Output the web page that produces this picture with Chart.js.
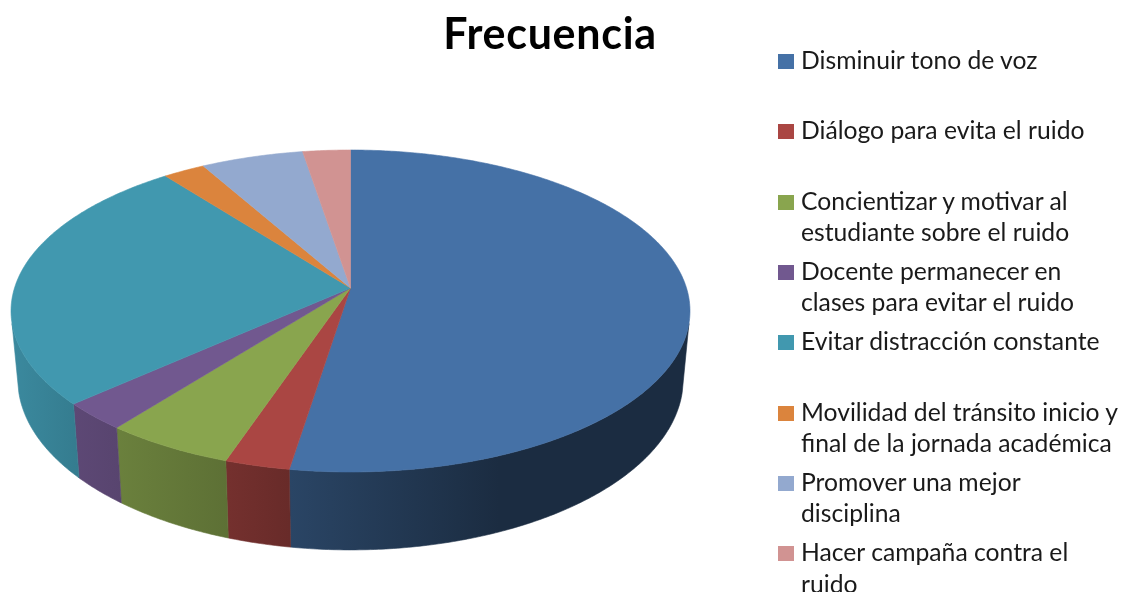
<!DOCTYPE html>
<html>
<head>
<meta charset="utf-8">
<script src="https://cdn.jsdelivr.net/npm/chart.js@4"></script>
<style>
    html, body { margin: 0; padding: 0; background: #fff; overflow: hidden; }
    #wrap { position: relative; width: 1124px; height: 592px; font-family: Lato, sans-serif; color: #1a1a1a; }
    #pie-chart { position: absolute; left: 0; top: 0; }
    #title { position: absolute; left: 350px; width: 400px; top: 9px; text-align: center; font-size: 43px; letter-spacing: 0.7px; line-height: 48px; font-weight: 700; color: #000; }
    .item { position: absolute; left: 801px; font-size: 24.7px; line-height: 31.5px; white-space: nowrap; }
    .swatch { position: absolute; left: 778px; width: 16px; height: 15px; }
</style>
</head>
<body>
<div id="wrap">
    <canvas id="pie-chart" width="1124" height="592"></canvas>
    <div id="title"></div>
    <div id="legend"></div>
</div>
<script>
const chartTitle = "Frecuencia";
const categories = [
    "Disminuir tono de voz",
    "Diálogo para evita el ruido",
    "Concientizar y motivar al\nestudiante sobre el ruido",
    "Docente permanecer en\nclases para evitar el ruido",
    "Evitar distracción constante",
    "Movilidad del tránsito inicio y\nfinal de la jornada académica",
    "Promover una mejor\ndisciplina",
    "Hacer campaña contra el\nruido"
];
// shares, in percent
const frecuencia = [52.5, 2.7, 5.4, 2.8, 26.1, 2.3, 5.6, 2.6];
const colors = ["#4571A6", "#AA4643", "#89A54E", "#71588F", "#4198AF", "#DB843D", "#93A9CF", "#D19392"];

// perspective of the tilted disc, relative to the arc radius Chart.js gives us
const tilt = 1 / 7;
const stretchX = 336 / 138;
const stretchY = 157.7 / 138;
const depth = 66.8;
const bottomShrink = 0.98;
const wallFromAngle = 0.22;  // radians, where the side wall comes into view

// darkening of the side wall from left to right
const wallShade = [[0, 0.9], [0.09, 0.82], [0.32, 0.68], [0.41, 0.61], [0.72, 0.39], [1, 0.39]];

function project(el, angle) {
    const u = Math.cos(angle), v = Math.sin(angle);
    const w = 1 - tilt * v;
    return {
        x: el.x + el.outerRadius * stretchX * u / w,
        y: el.y + el.outerRadius * stretchY * v / w
    };
}

function projectBottom(el, angle) {
    const p = project(el, angle);
    return {
        x: el.x + (p.x - el.x) * bottomShrink,
        y: p.y + depth / (1 - tilt * Math.sin(angle))
    };
}

function shade(hex, k) {
    const n = parseInt(hex.slice(1), 16);
    const r = Math.round((n >> 16) * k), g = Math.round(((n >> 8) & 255) * k), b = Math.round((n & 255) * k);
    return "rgb(" + r + "," + g + "," + b + ")";
}

function anglesBetween(a0, a1) {
    const list = [];
    const steps = Math.max(2, Math.ceil((a1 - a0) / 0.01));
    for (let i = 0; i <= steps; i++) list.push(a0 + (a1 - a0) * i / steps);
    return list;
}

function fillPath(ctx, pts, style) {
    ctx.beginPath();
    pts.forEach((p, i) => i ? ctx.lineTo(p.x, p.y) : ctx.moveTo(p.x, p.y));
    ctx.closePath();
    ctx.fillStyle = style;
    ctx.strokeStyle = style;
    ctx.lineWidth = 0.6;
    ctx.fill();
    ctx.stroke();
}

const disc3d = {
    id: "disc3d",
    beforeDatasetDraw(chart, args) {
        const ctx = chart.ctx;
        const arcs = args.meta.data;
        const wallEnd = Math.PI - wallFromAngle;

        // side wall first, then the top face over it
        arcs.forEach((el, i) => {
            const a0 = Math.max(el.startAngle, wallFromAngle);
            const a1 = Math.min(el.endAngle, wallEnd);
            if (a1 <= a0) return;
            const list = anglesBetween(a0, a1);
            const pts = list.map(a => project(el, a)).concat(list.slice().reverse().map(a => projectBottom(el, a)));
            const left = project(el, wallEnd).x, right = project(el, wallFromAngle).x;
            const grad = ctx.createLinearGradient(left, 0, right, 0);
            wallShade.forEach(s => grad.addColorStop(s[0], shade(colors[i], s[1])));
            fillPath(ctx, pts, grad);
        });
        arcs.forEach((el, i) => {
            const pts = [{ x: el.x, y: el.y }].concat(anglesBetween(el.startAngle, el.endAngle).map(a => project(el, a)));
            fillPath(ctx, pts, colors[i]);
        });
        return false;
    }
};

new Chart(document.getElementById("pie-chart"), {
    type: 'pie',
    data: {
        labels: categories,
        datasets: [{
            data: frecuencia,
            backgroundColor: colors,
            borderWidth: 0
        }]
    },
    options: {
        responsive: false,
        animation: false,
        layout: { padding: { left: 11, right: 434, top: 150, bottom: 166 } },
        plugins: {
            legend: { display: false },
            tooltip: { enabled: false }
        }
    },
    plugins: [disc3d]
});

// title and legend as page text, the legend slots are evenly spaced
document.getElementById("title").textContent = chartTitle;
const legendBox = document.getElementById("legend");
categories.forEach((name, i) => {
    const top = 44 + i * 70.3;
    const item = document.createElement("div");
    item.className = "item";
    item.style.top = top + "px";
    item.innerHTML = name.replace("\n", "<br>");
    const swatch = document.createElement("div");
    swatch.className = "swatch";
    swatch.style.top = (top + 10) + "px";
    swatch.style.background = colors[i];
    legendBox.appendChild(swatch);
    legendBox.appendChild(item);
});
</script>
</body>
</html>
